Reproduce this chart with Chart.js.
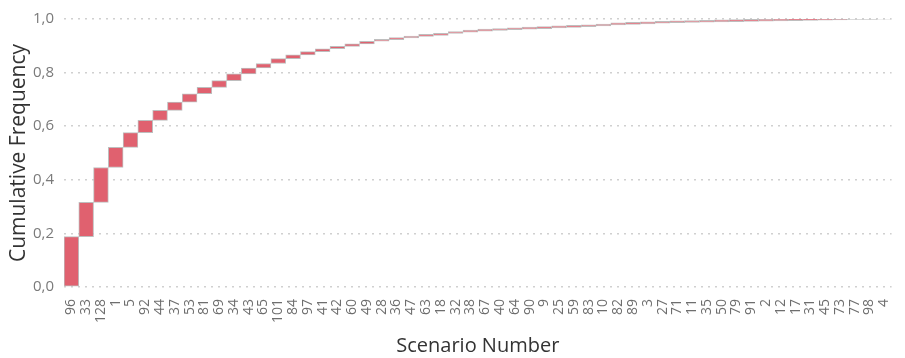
<!DOCTYPE html>
<html>
<head>
<meta charset="utf-8">
<script src="https://cdn.jsdelivr.net/npm/chart.js@4"></script>
<style>
  html, body { margin: 0; padding: 0; background: #fff; }
  #wrap { width: 905px; height: 358px; position: relative; }
</style>
</head>
<body>
<div id="wrap"><canvas id="grafica"></canvas></div>
<script>
// Escenarios en el orden del eje x
const escenarios = [
  "96", "33", "128", "1", "5", "92", "44", "37", "53", "81", "69", "34", "43", "65",
  "101", "84", "97", "41", "42", "60", "49", "28", "36", "47", "63", "18", "32", "38",
  "67", "40", "64", "90", "9", "25", "59", "83", "10", "82", "89", "3", "27", "71",
  "11", "35", "50", "79", "91", "2", "12", "17", "31", "45", "73", "77", "98", "4",
];
// Frecuencia acumulada
const frecuencia_acumulada = [
  0.188, 0.316, 0.446, 0.521, 0.576, 0.622, 0.659, 0.690, 0.721, 0.745, 0.770, 0.795,
  0.817, 0.834, 0.852, 0.866, 0.878, 0.889, 0.898, 0.907, 0.917, 0.923, 0.929, 0.935,
  0.939, 0.946, 0.951, 0.955, 0.957, 0.960, 0.962, 0.964, 0.967, 0.969, 0.971, 0.974,
  0.978, 0.980, 0.982, 0.984, 0.986, 0.987, 0.988, 0.989, 0.990, 0.991, 0.992, 0.993,
  0.994, 0.995, 0.996, 0.997, 0.998, 0.998, 0.999, 1.0,
];
const ticks_y = [0, 0.2, 0.4, 0.6, 0.8, 1.0];

// cada barra flota desde el acumulado anterior hasta el actual
const barras = frecuencia_acumulada.map((v, i) => [i === 0 ? 0 : frecuencia_acumulada[i - 1], v]);

const fuente = "'Open Sans', 'DejaVu Sans', sans-serif";

const ctx = document.getElementById("grafica").getContext("2d");
new Chart(ctx, {
  type: "bar",
  data: {
    labels: escenarios,
    datasets: [
      {
        label: "Cumulative Frequency",
        data: barras,
        backgroundColor: "rgb(224, 97, 111)",
        borderColor: "rgb(190, 190, 190)",
        borderWidth: 1,
        borderSkipped: false,
        minBarLength: 2,
        barPercentage: 1,
        categoryPercentage: 1,
      },
    ],
  },
  options: {
    responsive: true,
    maintainAspectRatio: false,
    animation: false,
    layout: { padding: { top: 16, right: 0, left: 2, bottom: 0 } },
    plugins: {
      legend: { display: false },
      tooltip: { enabled: false },
    },
    scales: {
      x: {
        grid: { display: false },
        border: { display: false },
        ticks: {
          autoSkip: false,
          minRotation: 90,
          maxRotation: 90,
          padding: 4,
          color: "#6e6e6e",
          font: { family: fuente, size: 14 },
        },
        title: {
          display: true,
          text: "Scenario Number",
          color: "#333333",
          padding: { top: 0, bottom: 0 },
          font: { family: fuente, size: 20 },
        },
        afterFit: (scale) => {
          scale.height = 71;
        },
      },
      y: {
        min: 0,
        max: 1,
        afterBuildTicks: (scale) => {
          scale.ticks = ticks_y.map((v) => ({ value: v }));
        },
        grid: {
          color: "#d0d0d0",
          lineWidth: 1.5,
          drawTicks: false,
        },
        border: { display: false, dash: [2, 5] },
        ticks: {
          padding: 10,
          color: "#7a7a7a",
          font: { family: fuente, size: 15 },
          callback: function (value) {
            return value.toFixed(1).replace(".", ",");
          },
        },
        title: {
          display: true,
          text: "Cumulative Frequency",
          color: "#333333",
          padding: { top: 4, bottom: 0 },
          font: { family: fuente, size: 21 },
        },
        afterFit: (scale) => {
          scale.width = 62;
        },
      },
    },
  },
});
</script>
</body>
</html>
